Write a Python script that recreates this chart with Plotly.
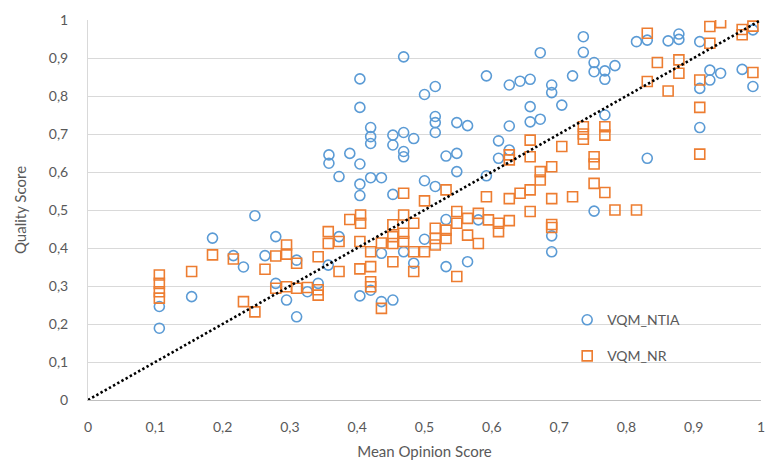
import plotly.graph_objects as go

# VQM_NTIA scores against MOS
ntia_mos = [
    0.106, 0.106, 0.154, 0.185, 0.216, 0.231, 0.248, 0.263, 0.279, 0.279,
    0.295, 0.310, 0.310, 0.326, 0.342, 0.357, 0.373, 0.358, 0.358, 0.389,
    0.373, 0.404, 0.404, 0.404, 0.404, 0.404, 0.404, 0.420, 0.420, 0.420,
    0.420, 0.420, 0.436, 0.436, 0.436, 0.453, 0.453, 0.453, 0.453, 0.469,
    0.469, 0.469, 0.469, 0.469, 0.484, 0.484, 0.500, 0.500, 0.500, 0.516,
    0.516, 0.516, 0.516, 0.516, 0.532, 0.532, 0.532, 0.548, 0.548, 0.548,
    0.564, 0.564, 0.580, 0.592, 0.592, 0.610, 0.610, 0.626, 0.626, 0.626,
    0.642, 0.657, 0.657, 0.657, 0.672, 0.672, 0.689, 0.689, 0.689, 0.689,
    0.704, 0.720, 0.736, 0.736, 0.752, 0.752, 0.752, 0.768, 0.768, 0.768,
    0.783, 0.815, 0.831, 0.831, 0.862, 0.878, 0.878, 0.909, 0.909, 0.909,
    0.924, 0.924, 0.940, 0.972, 0.988, 0.988,
]
ntia_score = [
    0.189, 0.246, 0.272, 0.426, 0.380, 0.350, 0.485, 0.380, 0.430, 0.307,
    0.263, 0.219, 0.368, 0.285, 0.307, 0.355, 0.430, 0.645, 0.623, 0.649,
    0.588, 0.845, 0.770, 0.621, 0.568, 0.538, 0.274, 0.717, 0.693, 0.675,
    0.585, 0.289, 0.585, 0.386, 0.259, 0.697, 0.671, 0.541, 0.263, 0.903,
    0.704, 0.654, 0.640, 0.390, 0.688, 0.360, 0.804, 0.577, 0.423, 0.825,
    0.746, 0.730, 0.704, 0.562, 0.642, 0.475, 0.351, 0.730, 0.649, 0.601,
    0.722, 0.364, 0.474, 0.853, 0.590, 0.682, 0.636, 0.829, 0.721, 0.658,
    0.839, 0.844, 0.772, 0.732, 0.914, 0.739, 0.829, 0.809, 0.432, 0.390,
    0.776, 0.853, 0.956, 0.915, 0.888, 0.864, 0.497, 0.866, 0.844, 0.750,
    0.880, 0.943, 0.947, 0.636, 0.945, 0.963, 0.949, 0.943, 0.820, 0.717,
    0.868, 0.842, 0.860, 0.870, 0.974, 0.825,
]

# VQM_NR scores against MOS
nr_mos = [
    0.106, 0.106, 0.106, 0.106, 0.154, 0.185, 0.216, 0.231, 0.248, 0.263,
    0.279, 0.279, 0.295, 0.295, 0.295, 0.310, 0.310, 0.326, 0.342, 0.342,
    0.342, 0.357, 0.357, 0.373, 0.373, 0.389, 0.405, 0.405, 0.404, 0.404,
    0.420, 0.420, 0.420, 0.420, 0.436, 0.436, 0.453, 0.453, 0.453, 0.453,
    0.469, 0.469, 0.469, 0.469, 0.484, 0.484, 0.484, 0.500, 0.500, 0.516,
    0.516, 0.516, 0.532, 0.532, 0.532, 0.548, 0.548, 0.548, 0.564, 0.564,
    0.580, 0.580, 0.592, 0.595, 0.610, 0.610, 0.626, 0.626, 0.626, 0.626,
    0.642, 0.657, 0.657, 0.657, 0.657, 0.672, 0.672, 0.689, 0.689, 0.689,
    0.689, 0.704, 0.720, 0.736, 0.736, 0.736, 0.752, 0.752, 0.752, 0.768,
    0.768, 0.768, 0.783, 0.815, 0.831, 0.831, 0.846, 0.862, 0.878, 0.878,
    0.909, 0.909, 0.909, 0.924, 0.924, 0.940, 0.972, 0.972, 0.988, 0.988,
]
nr_score = [
    0.329, 0.307, 0.285, 0.268, 0.338, 0.382, 0.371, 0.259, 0.232, 0.344,
    0.379, 0.294, 0.408, 0.384, 0.298, 0.360, 0.294, 0.296, 0.377, 0.290,
    0.276, 0.443, 0.412, 0.417, 0.338, 0.475, 0.487, 0.465, 0.417, 0.345,
    0.390, 0.351, 0.311, 0.298, 0.413, 0.241, 0.461, 0.430, 0.412, 0.364,
    0.544, 0.487, 0.439, 0.417, 0.465, 0.390, 0.338, 0.524, 0.390, 0.452,
    0.425, 0.408, 0.553, 0.447, 0.425, 0.496, 0.465, 0.325, 0.478, 0.434,
    0.491, 0.412, 0.535, 0.474, 0.465, 0.443, 0.645, 0.632, 0.530, 0.472,
    0.544, 0.684, 0.640, 0.553, 0.496, 0.601, 0.579, 0.614, 0.530, 0.462,
    0.454, 0.667, 0.535, 0.719, 0.700, 0.686, 0.640, 0.621, 0.570, 0.719,
    0.697, 0.546, 0.500, 0.500, 0.965, 0.838, 0.888, 0.813, 0.895, 0.860,
    0.842, 0.770, 0.647, 0.983, 0.939, 0.993, 0.975, 0.961, 0.984, 0.862,
]

# Ideal agreement line
diag_x = [0, 1]
diag_y = [0, 1]

x_ticks = [0, 0.1, 0.2, 0.3, 0.4, 0.5, 0.6, 0.7, 0.8, 0.9, 1]

BLUE = "#5B9BD5"
ORANGE = "#ED7D31"
TEXT = "#595959"
FONT = "Lato"

fig = go.Figure()

fig.add_trace(go.Scatter(
    x=ntia_mos, y=ntia_score, mode="markers", name="VQM_NTIA",
    marker=dict(symbol="circle-open", size=10, color=BLUE,
                line=dict(width=1.6, color=BLUE)),
    legend="legend",
))
fig.add_trace(go.Scatter(
    x=nr_mos, y=nr_score, mode="markers", name="VQM_NR",
    marker=dict(symbol="square-open", size=10, color=ORANGE,
                line=dict(width=1.6, color=ORANGE)),
    legend="legend2",
))
fig.add_trace(go.Scatter(
    x=diag_x, y=diag_y, mode="lines", showlegend=False,
    line=dict(color="black", width=2.6, dash="2.4px,2.4px"),
    hoverinfo="skip",
))

legend_style = dict(
    font=dict(family=FONT, size=14, color=TEXT),
    bgcolor="rgba(0,0,0,0)",
    xanchor="left", yanchor="middle",
    itemwidth=30,
)

fig.update_layout(
    width=765, height=463,
    margin=dict(l=88, r=4, t=20, b=63, autoexpand=False),
    paper_bgcolor="white", plot_bgcolor="white",
    separators=", ",
    font=dict(family=FONT, size=14, color=TEXT),
    legend=dict(x=0.712, y=0.21, **legend_style),
    legend2=dict(x=0.712, y=0.115, **legend_style),
    xaxis=dict(
        range=[0, 1], tickvals=x_ticks, showgrid=False, zeroline=False,
        showline=True, linecolor="#BFBFBF", linewidth=1, ticks="",
        ticklabelstandoff=14, ticklabeloverflow="allow", automargin=False,
        tickfont=dict(family=FONT, size=14, color=TEXT),
        title=dict(text="Mean Opinion Score", standoff=12,
                   font=dict(family=FONT, size=15, color=TEXT)),
        fixedrange=True,
    ),
    yaxis=dict(
        range=[0, 1], tickvals=x_ticks, showgrid=True, gridcolor="#D9D9D9",
        gridwidth=1, zeroline=False, showline=True, linecolor="#D9D9D9",
        linewidth=1, ticks="", automargin=False,
        ticklabelstandoff=16, ticklabeloverflow="allow",
        tickfont=dict(family=FONT, size=14, color=TEXT),
        title=dict(text="Quality Score", standoff=18,
                   font=dict(family=FONT, size=15, color=TEXT)),
        fixedrange=True,
    ),
)

fig.write_html("out.html")
